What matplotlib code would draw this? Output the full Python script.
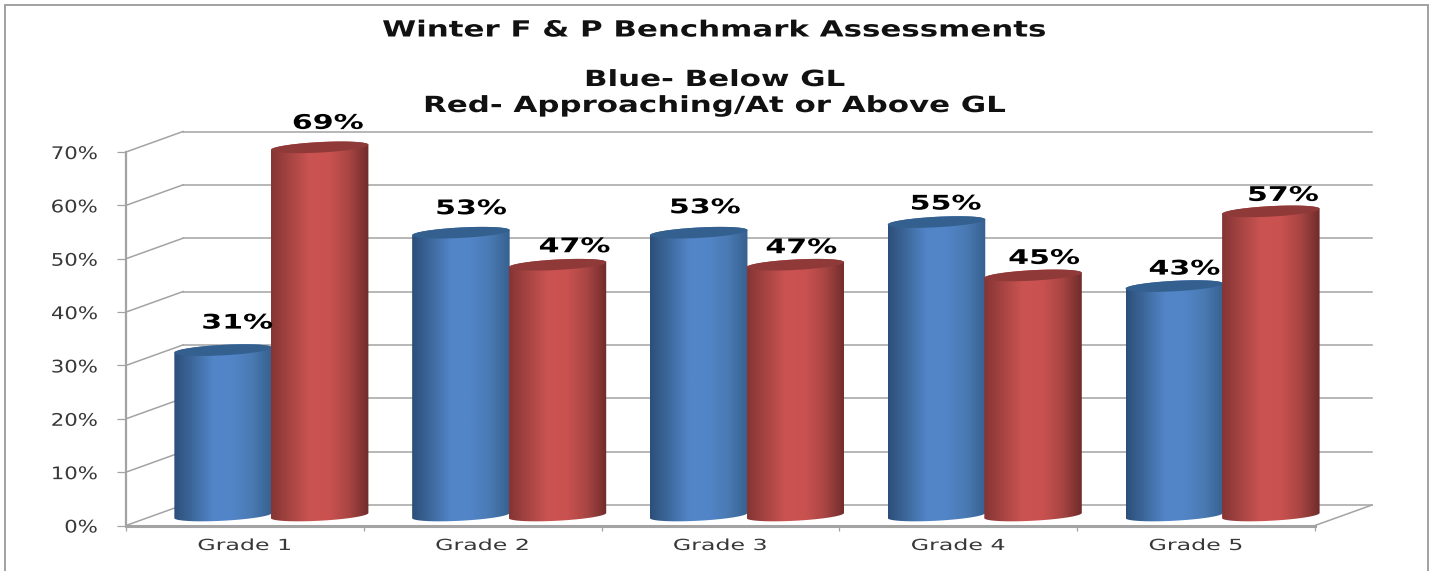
import numpy as np
import matplotlib
matplotlib.use("Agg")
import matplotlib.pyplot as plt
import matplotlib.patheffects as pe
from matplotlib.colors import LinearSegmentedColormap
from matplotlib.patches import Rectangle
from matplotlib.path import Path
from matplotlib.transforms import Affine2D, IdentityTransform

grades = ["Grade 1", "Grade 2", "Grade 3", "Grade 4", "Grade 5"]
below_gl = [31, 53, 53, 55, 43]
at_above_gl = [69, 47, 47, 45, 57]
y_ticks = [0, 10, 20, 30, 40, 50, 60, 70]

# label nudges in pixels, the labels sit by hand in the original
blue_nudge = [(15, 27), (11, 24), (7, 25), (10, 18), (11, 17)]
red_nudge = [(8, 24), (17, 18), (6, 17), (11, 17), (12, 16)]

W, H = 1435, 571
GRAY = "#a3a3a3"
BAR_W = 0.41       # width of one cylinder in category units
CAP_RY = 0.98      # cap half height in percent units
CAP_TILT = 0.48    # cap tilt, percent units from centre to edge

blue_map = LinearSegmentedColormap.from_list("b", ["#2c4f79", "#3f6a9f", "#5285c8", "#5285c8", "#4a7ab3", "#36608f"])
red_map = LinearSegmentedColormap.from_list("r", ["#843534", "#a84543", "#cb5452", "#c95250", "#a84543", "#6f2c2b"])


class StretchX(pe.AbstractPathEffect):
    # the reference text is pulled wider than any installed font
    def __init__(self, k, x0):
        super().__init__()
        self.k = k
        self.x0 = x0

    def draw_path(self, renderer, gc, tpath, affine, rgbFace=None):
        m = affine + Affine2D().translate(-self.x0, 0).scale(self.k, 1).translate(self.x0, 0)
        renderer.draw_path(gc, tpath, m, rgbFace)


fig = plt.figure(figsize=(W / 100, H / 100), dpi=100, facecolor="white")
ax = fig.add_axes([126 / W, 45.5 / H, 1189 / W, 373.5 / H])
ax.set_xlim(0, 5)
ax.set_ylim(0, 70)
ax.patch.set_visible(False)

# depth of the 3d box
to_back = ax.transData + Affine2D().translate(57, 20.5)
to_mid = ax.transData + Affine2D().translate(26, 10)

for s in ["top", "right"]:
    ax.spines[s].set_visible(False)
ax.spines["left"].set_color(GRAY)
ax.spines["left"].set_linewidth(1.6)
ax.spines["bottom"].set_color(GRAY)
ax.spines["bottom"].set_linewidth(2.2)

for v in y_ticks:
    back = to_back.transform((0, v))
    front = ax.transData.transform((0, v))
    ax.plot([front[0], back[0]], [front[1], back[1]], color=GRAY, lw=1.1,
            transform=IdentityTransform(), clip_on=False, zorder=1)
    ax.plot([0, 5], [v, v], color=GRAY, lw=1.1, transform=to_back, clip_on=False, zorder=1)
front = ax.transData.transform((5, 0))
back = to_back.transform((5, 0))
ax.plot([front[0], back[0]], [front[1], back[1]], color=GRAY, lw=1.1,
        transform=IdentityTransform(), clip_on=False, zorder=1)


def cap_xy(cx, v, t):
    return cx + BAR_W / 2 * np.cos(t), v + CAP_RY * np.sin(t) + CAP_TILT * np.cos(t)


def cylinder(cx, v, cmap, cap_color, z):
    t_low = np.linspace(np.pi, 2 * np.pi, 60)
    t_up = np.linspace(0, np.pi, 60)
    xb, yb = cap_xy(cx, 0, t_low)
    xt, yt = cap_xy(cx, v, t_up)
    outline = Path(np.column_stack([np.r_[xb, xt], np.r_[yb, yt]]))
    grad = np.linspace(0, 1, 256).reshape(1, -1)
    im = ax.imshow(grad, cmap=cmap, aspect="auto", zorder=z, interpolation="bilinear",
                   extent=(cx - BAR_W / 2, cx + BAR_W / 2, -3, v + 3), transform=to_mid)
    im.set_clip_box(fig.bbox)
    im.set_clip_path(outline, to_mid)
    t_all = np.linspace(0, 2 * np.pi, 120)
    xc, yc = cap_xy(cx, v, t_all)
    ax.fill(xc, yc, color=cap_color, lw=0, transform=to_mid, clip_on=False, zorder=z + 0.1)


def value_label(cx, v, nudge):
    px = to_mid.transform((cx, v))
    x0 = px[0] + nudge[0]
    y0 = px[1] + nudge[1]
    t = ax.text(x0, y0, "%d%%" % v, transform=IdentityTransform(), ha="center", va="center",
                fontsize=14.5, fontweight="bold", color="black", clip_on=False, zorder=50)
    t.set_path_effects([StretchX(1.49, x0)])


for i in range(len(grades)):
    c = i + 0.5
    cylinder(c - BAR_W / 2 + 0.004, below_gl[i], blue_map, "#33608f", 10 + i)
    cylinder(c + BAR_W / 2, at_above_gl[i], red_map, "#8f3a39", 10.5 + i)
    value_label(c - BAR_W / 2, below_gl[i], blue_nudge[i])
    value_label(c + BAR_W / 2, at_above_gl[i], red_nudge[i])

ax.set_xlim(0, 5)
ax.set_ylim(0, 70)

ax.set_yticks(y_ticks)
ax.set_yticklabels(["%d%%" % v for v in y_ticks], fontsize=12.5, color="#383838")
ax.tick_params(axis="y", length=6.5, width=0.9, color=GRAY, pad=13.7)
ax.set_xticks(np.arange(5) + 0.5)
ax.set_xticklabels(grades, fontsize=11, color="#383838")
ax.set_xticks(np.arange(6), minor=True)
ax.tick_params(axis="x", which="major", length=0, pad=9)
ax.tick_params(axis="x", which="minor", length=3.5, width=0.9, color=GRAY)

x_right = 126 - 9 - 19
for lab in ax.get_yticklabels():
    lab.set_path_effects([StretchX(1.22, x_right)])
for i, lab in enumerate(ax.get_xticklabels()):
    lab.set_path_effects([StretchX(1.55, ax.transData.transform((i + 0.5, 0))[0])])

# title block, three lines placed like the picture
title_lines = ["Winter F & P Benchmark Assessments", "Blue- Below GL", "Red- Approaching/At or Above GL"]
title_y = [30.5, 80, 106]
for s, y in zip(title_lines, title_y):
    t = fig.text(715, H - y, s, transform=IdentityTransform(), ha="center", va="center",
                 fontsize=16, fontweight="bold", color="#111111")
    t.set_path_effects([StretchX(1.39, 715)])

# outer chart border, bottom is cut off in the picture
fig.add_artist(Rectangle((4.5, -20), 1423.5, H + 20 - 5, fill=False, edgecolor="#9a9a9a", lw=1.3,
                         transform=IdentityTransform()))

fig.savefig("out.png", dpi=100, facecolor="white")
